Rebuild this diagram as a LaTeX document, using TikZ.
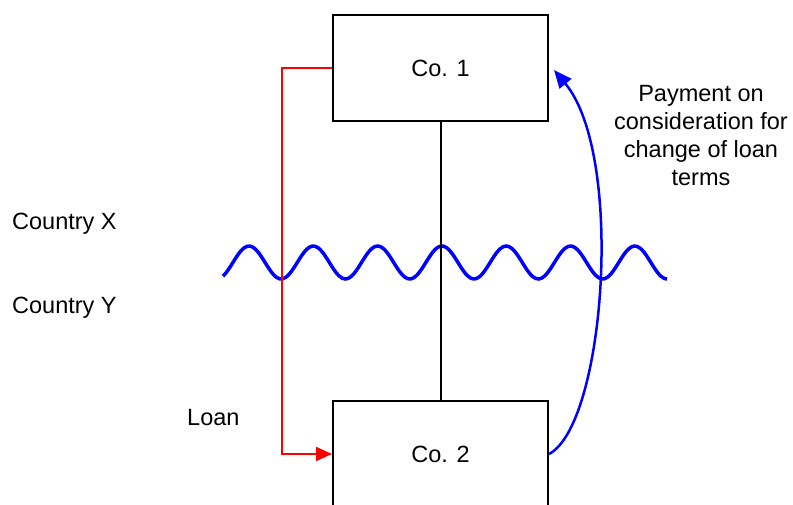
\documentclass[tikz,border=0pt]{standalone}
\usepackage{fontspec}
\setmainfont{Liberation Sans}
\usetikzlibrary{arrows.meta,positioning,calc}
\definecolor{LoanRed}{RGB}{255,0,0}
\definecolor{PayBlue}{RGB}{0,0,255}
\tikzset{
  cobox/.style={draw=black,line width=2pt,fill=white,minimum width=215pt,
    minimum height=106pt,inner sep=0pt,font=\fontsize{23.5}{28}\selectfont},
  labeltext/.style={inner sep=0pt,font=\fontsize{23.5}{28}\selectfont},
  loanarrow/.style={-{Triangle[length=16pt,width=14pt]},
    line width=2pt,draw=LoanRed},
  payarrow/.style={-{Triangle[length=18pt,width=15pt]},
    line width=2.5pt,draw=PayBlue},
  wavyline/.style={line width=3.5pt,draw=PayBlue},
  linkline/.style={line width=2pt,draw=black},
}
\begin{document}
\begin{tikzpicture}[x=1pt,y=-1pt]
\useasboundingbox (0,0) rectangle (793,505);
\clip (0,0) rectangle (793,505);
% border between the two countries
\draw[wavyline] plot[domain=223:667,samples=150,smooth] (\x,{262.5-16.5*cos(5.5988*(\x-249))});
\node[cobox] (co1) at (440.5,68) {Co. 1};
\node[cobox] (co2) at (440.5,454) {Co. 2};
\draw[linkline] (co1.south) -- (co2.north);
\draw[loanarrow] (co1.west) -- ++(-50,0) |- (co2.west);
\draw[payarrow] (co2.east) .. controls (605,425) and (625,155) .. ([shift={(5,2)}]co1.east);
\node[labeltext,anchor=base west] (countryX) at (12,230) {Country X};
\node[labeltext,anchor=base west] (countryY) at (12,313) {Country Y};
\node[labeltext,anchor=base west] (loan) at (187,425) {Loan};
\node[labeltext,align=center,anchor=north] (payment) at (701,85) {Payment on\\consideration for\\change of loan\\terms};
\end{tikzpicture}
\end{document}
